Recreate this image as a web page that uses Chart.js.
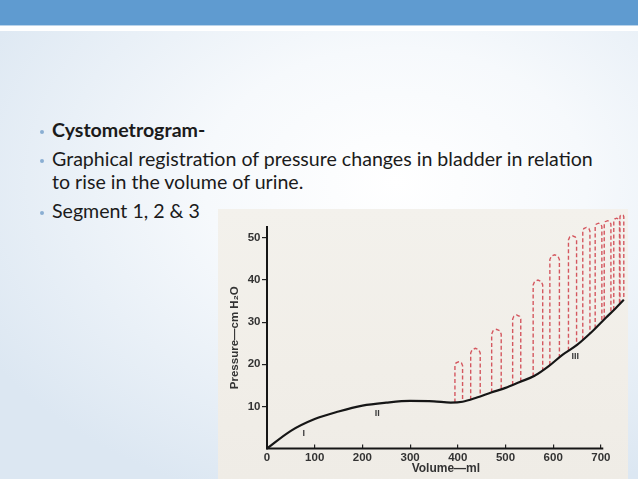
<!DOCTYPE html>
<html>
<head>
<meta charset="utf-8">
<script src="https://cdn.jsdelivr.net/npm/chart.js@4.4.1/dist/chart.umd.min.js"></script>
<style>
  html, body { margin: 0; padding: 0; }
  body {
    width: 638px; height: 479px; position: relative; overflow: hidden;
    background: radial-gradient(ellipse 75% 70% at 62% 38%, #ffffff 0%, #f6f9fc 40%, #dce7f2 100%);
    font-family: Lato, "Noto Sans", sans-serif;
  }
  .band { position: absolute; left: 0; top: 0; width: 638px; height: 25px; background: #5f9bd0; }
  .band-line { position: absolute; left: 0; top: 25px; width: 638px; height: 1px; background: #b9d3ea; }
  .band-white { position: absolute; left: 0; top: 26px; width: 638px; height: 5px; background: #ffffff; }
  .line { position: absolute; left: 52px; font-size: 19.6px; line-height: 19.6px; color: #1b1b1b; white-space: nowrap; }
  .bul { position: absolute; left: 39.8px; width: 4px; height: 4px; border-radius: 50%; background: #8aaed2; }
  .photo { position: absolute; left: 218px; top: 209px; width: 410px; height: 270px;
    background: linear-gradient(180deg, #f3f1ec 0%, #f1eee8 60%, #efece6 100%); }
  canvas { position: absolute; left: 0; top: 0; }
</style>
</head>
<body>
<div class="band"></div>
<div class="band-line"></div>
<div class="band-white"></div>

<div class="bul" style="top:130px"></div>
<div class="line" style="top:120.4px"><b>Cystometrogram-</b></div>
<div class="bul" style="top:159px"></div>
<div class="line" style="top:149.4px">Graphical registration of pressure changes in bladder in relation</div>
<div class="line" style="top:172.4px">to rise in the volume of urine.</div>
<div class="bul" style="top:211px"></div>
<div class="line" style="top:201.4px">Segment 1, 2 &amp; 3</div>

<div class="photo">
  <canvas id="cmg" width="410" height="270"></canvas>
</div>

<script>
// cystometrogram - volume (ml) vs pressure (cm H2O)
const curveVol = [0, 50, 100, 150, 200, 250, 300, 350, 385, 410, 440, 470, 500, 530, 560, 590, 620, 650, 680, 710, 730, 748];
const curvePres = [0, 4.2, 7.0, 8.8, 10.2, 10.9, 11.3, 11.2, 10.9, 11.1, 12.1, 13.3, 14.4, 15.8, 17.2, 19.5, 22.3, 24.6, 27.6, 31.0, 33.2, 35.3];

// contracoes (arcos tracejados vermelhos)
const archLeft = [394, 427, 471, 515, 558, 593, 632, 662, 688, 707, 727, 740];
const archRight = [410, 447, 491, 532, 578, 613, 649, 677, 702, 721, 739, 748];
const archTop = [20.6, 23.8, 28.3, 31.7, 40.0, 46.0, 50.5, 52.5, 53.5, 54.1, 54.7, 55.5];
const archBaseL = [10.9, 11.6, 13.3, 15.1, 17.1, 19.8, 23.2, 25.8, 28.5, 30.7, 32.9, 34.4];
const archBaseR = [11.1, 12.4, 14.0, 15.9, 18.5, 21.6, 24.5, 27.3, 30.1, 32.2, 34.3, 35.3];

const segLabels = ['I', 'II', 'III'];
const segX = [77, 231, 646];
const segY = [3.6, 8.2, 21.8];

const xTicks = [0, 100, 200, 300, 400, 500, 600, 700];
const yTicks = [10, 20, 30, 40, 50];
const xAxisEnd = 705;

const curvePts = curveVol.map((v, i) => ({ x: v, y: curvePres[i] }));

// monta cada arco: perna esquerda, topo arredondado, perna direita
const archPts = [];
archLeft.forEach((xl, i) => {
    const xr = archRight[i];
    const w = xr - xl;
    const drop = w * 0.057;
    const top = archTop[i];
    archPts.push({ x: xl, y: archBaseL[i] });
    archPts.push({ x: xl, y: top - drop });
    archPts.push({ x: xl + w * 0.15, y: top - drop * 0.3 });
    archPts.push({ x: xl + w / 2, y: top });
    archPts.push({ x: xr - w * 0.15, y: top - drop * 0.3 });
    archPts.push({ x: xr, y: top - drop });
    archPts.push({ x: xr, y: archBaseR[i] });
    archPts.push({ x: xr, y: null });
});

// eixo x desenhado só até 705 ml, e os rótulos I, II, III
const extras = {
    id: 'extras',
    afterDatasetsDraw(chart) {
        const { ctx, scales } = chart;
        const x = scales.x, y = scales.y;
        ctx.save();
        ctx.strokeStyle = '#161616';
        ctx.lineWidth = 2;
        ctx.beginPath();
        ctx.moveTo(x.getPixelForValue(0) - 1, y.getPixelForValue(0));
        ctx.lineTo(x.getPixelForValue(xAxisEnd), y.getPixelForValue(0));
        ctx.stroke();

        ctx.fillStyle = '#3a3a3a';
        ctx.font = 'bold 9px "Liberation Sans", Arial, sans-serif';
        ctx.textAlign = 'center';
        ctx.textBaseline = 'middle';
        segLabels.forEach((t, i) => {
            ctx.fillText(t, x.getPixelForValue(segX[i]), y.getPixelForValue(segY[i]));
        });
        ctx.restore();
    }
};

const tickFont = { family: '"Liberation Sans", Arial, sans-serif', size: 11.5, weight: 'bold' };

new Chart(document.getElementById('cmg'), {
    type: 'scatter',
    data: {
        datasets: [
            {
                data: curvePts,
                showLine: true,
                borderColor: '#161616',
                borderWidth: 2.2,
                pointRadius: 0,
                cubicInterpolationMode: 'monotone',
                clip: false,
                order: 0
            },
            {
                data: archPts,
                showLine: true,
                spanGaps: false,
                borderColor: '#d4575f',
                borderWidth: 1.4,
                borderDash: [4, 2.5],
                pointRadius: 0,
                tension: 0,
                clip: false,
                order: 1
            }
        ]
    },
    options: {
        responsive: false,
        devicePixelRatio: 1,
        animation: false,
        layout: { padding: { top: 18, right: 3.25, left: 0, bottom: 0 } },
        plugins: { legend: { display: false }, tooltip: { enabled: false } },
        scales: {
            x: {
                type: 'linear',
                min: 0,
                max: 750,
                afterBuildTicks: (s) => { s.ticks = xTicks.map(v => ({ value: v })); },
                afterFit: (s) => { s.height = 30.5; },
                ticks: { color: '#333', font: tickFont, padding: 6, includeBounds: false, maxRotation: 0 },
                grid: { drawOnChartArea: false, drawTicks: true, tickLength: -4, color: '#222', lineWidth: 1.2 },
                border: { display: false },
                title: {
                    display: true,
                    text: 'Volume\u2014ml',
                    color: '#333',
                    font: { family: '"Liberation Sans", Arial, sans-serif', size: 12, weight: 'bold' },
                    padding: { top: 0, bottom: 3 }
                }
            },
            y: {
                type: 'linear',
                min: 0,
                max: 52.6,
                afterBuildTicks: (s) => { s.ticks = yTicks.map(v => ({ value: v })); },
                afterFit: (s) => { s.width = 49; },
                ticks: { color: '#333', font: tickFont, padding: 1.5, includeBounds: false },
                grid: { drawOnChartArea: false, drawTicks: true, tickLength: 5, color: '#222', lineWidth: 1.2 },
                border: { display: true, color: '#161616', width: 2 },
                title: {
                    display: true,
                    text: 'Pressure\u2014cm H\u2082O',
                    color: '#333',
                    font: { family: '"Liberation Sans", Arial, sans-serif', size: 11.5, weight: 'bold' },
                    padding: { top: 10, bottom: 0 }
                }
            }
        }
    },
    plugins: [extras]
});
</script>
</body>
</html>
